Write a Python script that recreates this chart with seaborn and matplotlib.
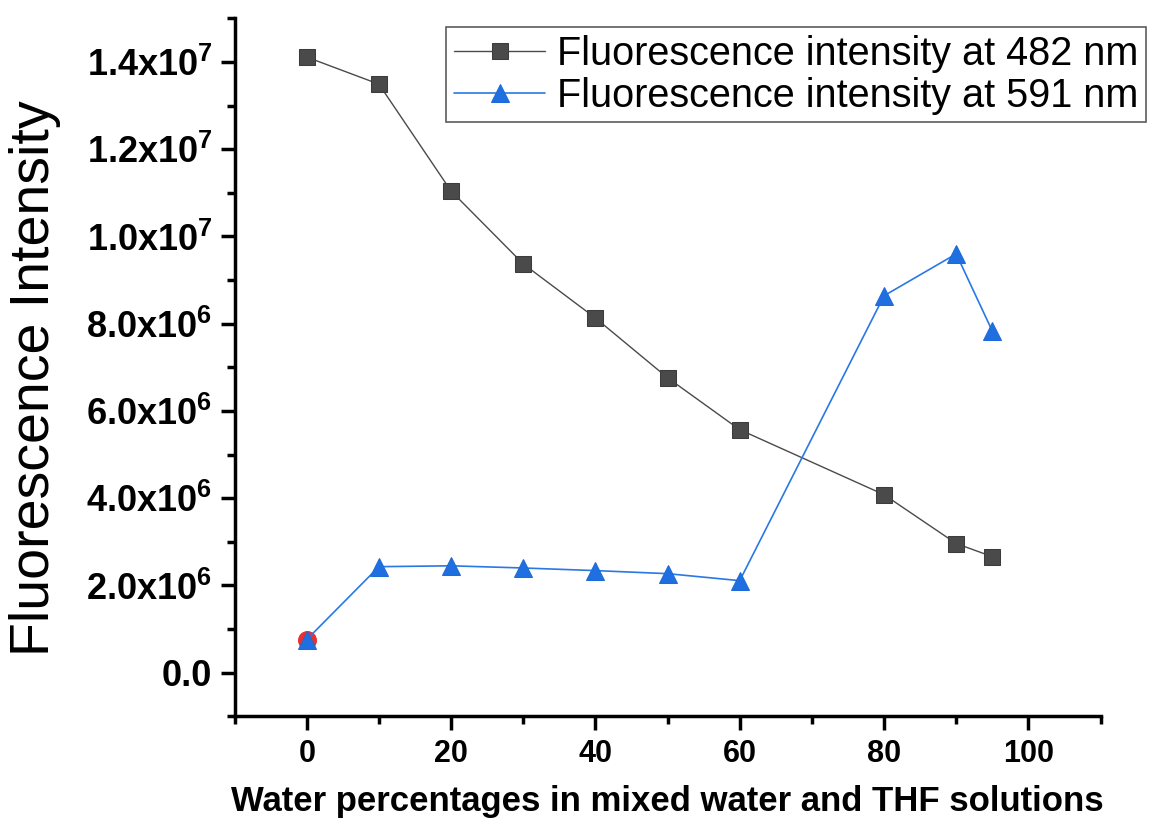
import numpy as np
import pandas as pd
import matplotlib
matplotlib.use("Agg")
import matplotlib.pyplot as plt
import seaborn as sns
from matplotlib.ticker import MultipleLocator, FixedLocator, FixedFormatter

# data
water = [0, 10, 20, 30, 40, 50, 60, 80, 90, 95]
int_482 = [1.411e7, 1.349e7, 1.104e7, 9.37e6, 8.13e6, 6.76e6, 5.57e6, 4.08e6, 2.96e6, 2.66e6]
int_591 = [0.76e6, 2.43e6, 2.45e6, 2.40e6, 2.34e6, 2.27e6, 2.11e6, 8.64e6, 9.60e6, 7.83e6]
red_x = [0]
red_y = [0.76e6]

ytick_vals = [0, 2e6, 4e6, 6e6, 8e6, 1.0e7, 1.2e7, 1.4e7]
ytick_labels = ['0.0', r'2.0x10$^{6}$', r'4.0x10$^{6}$', r'6.0x10$^{6}$', r'8.0x10$^{6}$',
                r'1.0x10$^{7}$', r'1.2x10$^{7}$', r'1.4x10$^{7}$']

sns.set_style("ticks")
plt.rcParams['font.family'] = ['Liberation Sans', 'DejaVu Sans']
plt.rcParams['mathtext.fontset'] = 'custom'
plt.rcParams['mathtext.rm'] = 'Liberation Sans:bold'
plt.rcParams['mathtext.it'] = 'Liberation Sans:bold'
plt.rcParams['mathtext.bf'] = 'Liberation Sans:bold'
plt.rcParams['text.color'] = 'black'
plt.rcParams['axes.labelcolor'] = 'black'
plt.rcParams['xtick.color'] = 'black'
plt.rcParams['ytick.color'] = 'black'
plt.rcParams['axes.edgecolor'] = 'black'

df482 = pd.DataFrame({'x': water, 'y': int_482})
df591 = pd.DataFrame({'x': water, 'y': int_591})

fig = plt.figure(figsize=(11.5, 8.31), dpi=100)
ax = fig.add_axes([0.204, 0.138, 0.753, 0.840])

sns.lineplot(data=df482, x='x', y='y', ax=ax, color='#4a4a4a', lw=1.0,
             marker='s', markersize=11, markeredgecolor='#3c3c3c', markerfacecolor='#4a4a4a',
             label='Fluorescence intensity at 482 nm')
ax.scatter(red_x, red_y, s=160, color='#e83030', zorder=3)
sns.lineplot(data=df591, x='x', y='y', ax=ax, color='#2a78e4', lw=1.2,
             marker='^', markersize=13, markeredgecolor='#1d6ad8', markerfacecolor='#1f6fe0',
             label='Fluorescence intensity at 591 nm', zorder=4)

ax.set_xlim(-10, 110)
ax.set_ylim(-1e6, 1.5e7)
ax.xaxis.set_major_locator(MultipleLocator(20))
ax.xaxis.set_minor_locator(MultipleLocator(10))
ax.yaxis.set_major_locator(FixedLocator(ytick_vals))
ax.yaxis.set_major_formatter(FixedFormatter(ytick_labels))
ax.yaxis.set_minor_locator(MultipleLocator(1e6))

for s in ['top', 'right']:
    ax.spines[s].set_visible(False)
for s in ['left', 'bottom']:
    ax.spines[s].set_linewidth(2.5)
ax.tick_params(which='major', direction='out', length=10, width=2.5, pad=6)
ax.tick_params(axis='x', which='major', labelsize=22)
ax.tick_params(axis='y', which='major', labelsize=26)
ax.tick_params(which='minor', direction='out', length=6, width=2.5)
for lab in ax.get_xticklabels() + ax.get_yticklabels():
    lab.set_fontweight('bold')

ax.set_xlabel('Water percentages in mixed water and THF solutions', fontsize=25,
              fontweight='bold', labelpad=12)
ax.set_ylabel('Fluorescence Intensity', fontsize=40)
ax.yaxis.set_label_coords(-0.200, 0.485)

leg = ax.legend(loc='upper right', bbox_to_anchor=(1.053, 0.988), fontsize=28.5,
                frameon=True, fancybox=False, edgecolor='#333333', handlelength=2.3,
                handletextpad=0.3, borderpad=0.2, labelspacing=0.1, borderaxespad=0)
leg.get_frame().set_linewidth(1.2)

fig.savefig('out.png', dpi=100)
